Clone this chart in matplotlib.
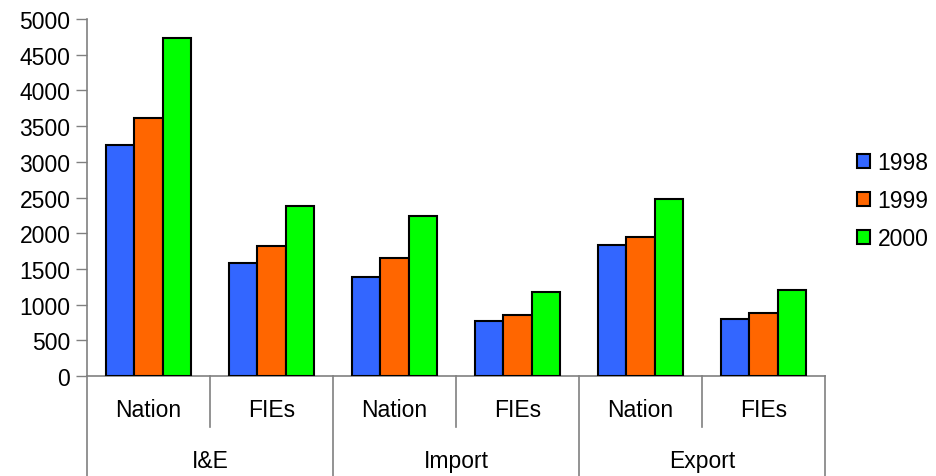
import numpy as np
import matplotlib.pyplot as plt
from matplotlib.transforms import blended_transform_factory

plt.rcParams['font.family'] = ['Liberation Sans', 'DejaVu Sans']

groups = ["I&E", "Import", "Export"]
subs = ["Nation", "FIEs", "Nation", "FIEs", "Nation", "FIEs"]
years = ["1998", "1999", "2000"]
v1998 = [3240, 1578, 1386, 772, 1839, 796]
v1999 = [3609, 1817, 1657, 856, 1947, 880]
v2000 = [4732, 2383, 2246, 1171, 2481, 1199]
colors = ["#3366FF", "#FF6600", "#00FF00"]

FS = 16.5


def main():
	fig = plt.figure(figsize=(9.37, 4.77), dpi=100)
	ax = fig.add_axes([87/937, 100/477, 738/937, 357/477])

	x = np.arange(len(subs))
	w = 0.228
	for i, (vals, yr) in enumerate(zip([v1998, v1999, v2000], years)):
		ax.bar(x + (i - 1) * w, vals, w, color=colors[i], edgecolor="black",
			linewidth=1.5, label=yr, zorder=3)

	ax.set_xlim(-0.5, len(subs) - 0.5)
	ax.set_ylim(0, 5000)
	ax.set_yticks(np.arange(0, 5001, 500))
	ax.tick_params(axis="y", labelsize=FS, length=8, width=1, color="#808080", pad=4)
	ax.set_xticks([])
	for s in ["top", "right"]:
		ax.spines[s].set_visible(False)
	for s in ["left", "bottom"]:
		ax.spines[s].set_color("#808080")
		ax.spines[s].set_linewidth(1.2)

	# two-level category axis
	tr = blended_transform_factory(ax.transData, ax.transAxes)
	for xi, name in zip(x, subs):
		ax.text(xi, -0.095, name, transform=tr, ha="center", va="center", fontsize=FS)
	for xb in [0.5, 2.5, 4.5]:
		ax.plot([xb, xb], [0, -0.143], transform=tr, color="#808080", lw=1.2, clip_on=False)
	for xb in [-0.5, 1.5, 3.5, 5.5]:
		ax.plot([xb, xb], [0, -0.28], transform=tr, color="#808080", lw=1.2, clip_on=False)
	for gi, g in enumerate(groups):
		ax.text(gi * 2 + 0.5, -0.238, g, transform=tr, ha="center", va="center", fontsize=FS)

	ax.legend(loc="upper left", bbox_to_anchor=(857/937, (477 - 152)/477),
		bbox_transform=fig.transFigure, frameon=False, fontsize=FS,
		borderpad=0, borderaxespad=0,
		handlelength=0.55, handleheight=0.55, handletextpad=0.35, labelspacing=0.65)

	fig.savefig("out.png", dpi=100)


if __name__ == "__main__":
	main()
